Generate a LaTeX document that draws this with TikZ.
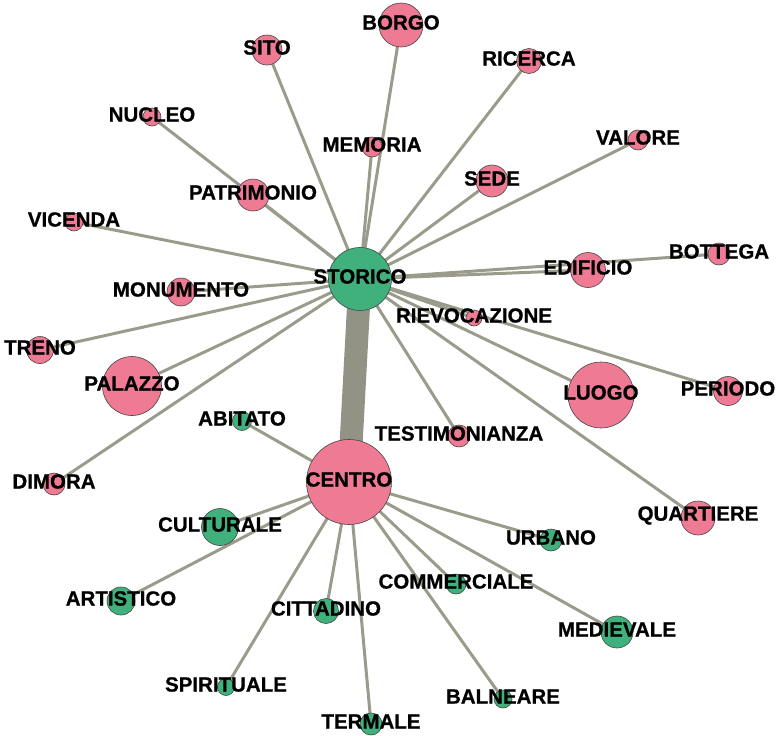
\documentclass[tikz,border=0pt]{standalone}
\usepackage{fontspec}
\setmainfont{Liberation Sans}
\newfontfamily\lblfont[FakeBold=0.8]{Liberation Sans Bold}
\usetikzlibrary{backgrounds}
\definecolor{pinkc}{RGB}{238,122,148}
\definecolor{greenc}{RGB}{64,176,124}
\definecolor{edgec}{RGB}{155,155,140}
\definecolor{rimc}{RGB}{70,70,70}
\tikzset{
  pk/.style={circle, fill=pinkc, draw=rimc, line width=0.6pt, inner sep=0pt, minimum size=2*#1},
  gr/.style={circle, fill=greenc, draw=rimc, line width=0.6pt, inner sep=0pt, minimum size=2*#1},
  lbl/.style={font=\lblfont\fontsize{20.5}{21}\selectfont, inner sep=0pt, yshift=2.5pt, text=black},
  edge/.style={draw=edgec, line width=3pt},
}
\begin{document}
\begin{tikzpicture}[x=1pt,y=-1pt]
\useasboundingbox (0,0) rectangle (777,736);
% hubs
\node[gr=31.5pt] (storico) at (360,279) {};
\node[pk=42.5pt] (centro) at (349,482) {};
% pink neighbours of STORICO
\node[pk=15pt] (sito) at (267,50) {};
\node[pk=22pt] (borgo) at (401,25) {};
\node[pk=9pt] (nucleo) at (152,117) {};
\node[pk=10pt] (memoria) at (372,147) {};
\node[pk=12.5pt] (ricerca) at (529,61) {};
\node[pk=10pt] (valore) at (638,140) {};
\node[pk=16pt] (sede) at (492,181) {};
\node[pk=16pt] (patrimonio) at (253,195) {};
\node[pk=9pt] (vicenda) at (74,222) {};
\node[pk=17.5pt] (edificio) at (588,270) {};
\node[pk=11pt] (bottega) at (719,254) {};
\node[pk=14pt] (monumento) at (181,292) {};
\node[pk=8pt] (rievocazione) at (474,318) {};
\node[pk=13.5pt] (treno) at (40,350) {};
\node[pk=29.5pt] (palazzo) at (132,386) {};
\node[pk=33pt] (luogo) at (601,395) {};
\node[pk=14.5pt] (periodo) at (728,391) {};
\node[pk=11pt] (testimonianza) at (459,436) {};
\node[pk=11pt] (dimora) at (54,484) {};
\node[pk=17pt] (quartiere) at (698,518) {};
% green neighbours of CENTRO
\node[gr=9.5pt] (abitato) at (242,421) {};
\node[gr=18.5pt] (culturale) at (220,527) {};
\node[gr=14pt] (artistico) at (121,601) {};
\node[gr=12.5pt] (cittadino) at (326,611) {};
\node[gr=8.5pt] (spirituale) at (226,687) {};
\node[gr=11pt] (termale) at (371,724) {};
\node[gr=11pt] (urbano) at (551,540) {};
\node[gr=10pt] (commerciale) at (456,584) {};
\node[gr=16pt] (medievale) at (617,632) {};
\node[gr=9pt] (balneare) at (503,699) {};
% labels
\foreach \n/\t in {storico/STORICO,centro/CENTRO,sito/SITO,borgo/BORGO,nucleo/NUCLEO,
  memoria/MEMORIA,ricerca/RICERCA,valore/VALORE,sede/SEDE,patrimonio/PATRIMONIO,
  vicenda/VICENDA,edificio/EDIFICIO,bottega/BOTTEGA,monumento/MONUMENTO,
  rievocazione/RIEVOCAZIONE,treno/TRENO,palazzo/PALAZZO,luogo/LUOGO,periodo/PERIODO,
  testimonianza/TESTIMONIANZA,dimora/DIMORA,quartiere/QUARTIERE,abitato/ABITATO,
  culturale/CULTURALE,artistico/ARTISTICO,cittadino/CITTADINO,spirituale/SPIRITUALE,
  termale/TERMALE,urbano/URBANO,commerciale/COMMERCIALE,medievale/MEDIEVALE,
  balneare/BALNEARE}
  \node[lbl] (\n-l) at (\n) {\t};
% edges
\begin{scope}[on background layer]
\draw[draw=edgec!95!black, line width=23pt] (storico.center) -- (centro.center);
\foreach \m in {sito,borgo,nucleo,memoria,ricerca,valore,sede,patrimonio,vicenda,
  edificio,bottega,monumento,rievocazione,treno,palazzo,luogo,periodo,
  testimonianza,dimora,quartiere}
  \draw[edge] (storico.center) -- (\m.center);
\foreach \m in {abitato,culturale,artistico,cittadino,spirituale,termale,urbano,
  commerciale,medievale,balneare}
  \draw[edge] (centro.center) -- (\m.center);
\end{scope}
\end{tikzpicture}
\end{document}
